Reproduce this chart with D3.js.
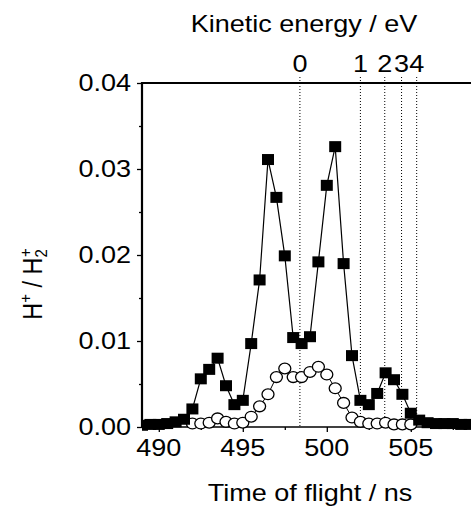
<!DOCTYPE html>
<html>
<head>
<meta charset="utf-8">
<script src="https://cdn.jsdelivr.net/npm/d3@7"></script>
<style>
  body { margin: 0; background: #fff; }
  svg { display: block; }
  text { font-family: "Liberation Sans", Arial, sans-serif; fill: #000; }
</style>
</head>
<body>
<div id="chart"></div>
<script>
// time of flight (ns) and H+/H2+ ratio, filled squares
const tofSquares = [489, 489.5, 490, 490.5, 491, 491.5, 492, 492.5, 493, 493.5,
  494, 494.5, 495, 495.5, 496, 496.5, 497, 497.5, 498, 498.5,
  499, 499.5, 500, 500.5, 501, 501.5, 502, 502.5, 503, 503.5,
  504, 504.5, 505, 505.5, 506, 506.5, 507, 507.5, 508, 508.5, 509];
const ratioSquares = [0.0002, 0.0003, 0.0003, 0.0004, 0.0006, 0.0009, 0.0021, 0.0056, 0.0067, 0.0080,
  0.0048, 0.0026, 0.0031, 0.0097, 0.0171, 0.0311, 0.0267, 0.0199, 0.0104, 0.0097,
  0.0105, 0.0192, 0.0281, 0.0326, 0.0190, 0.0083, 0.0031, 0.0026, 0.0039, 0.0063,
  0.0055, 0.0038, 0.0016, 0.0008, 0.0005, 0.0004, 0.0004, 0.0004, 0.0003, 0.0003, 0.0002];

// open circles
const tofCircles = [492, 492.5, 493, 493.5, 494, 494.5, 495, 495.5, 496, 496.5,
  497, 497.5, 498, 498.5, 499, 499.5, 500, 500.5, 501, 501.5,
  502, 502.5, 503, 503.5, 504, 504.5, 505];
const ratioCircles = [0.0004, 0.0004, 0.0005, 0.0010, 0.0006, 0.0004, 0.0005, 0.0012, 0.0024, 0.0038,
  0.0058, 0.0068, 0.0058, 0.0058, 0.0064, 0.0070, 0.0061, 0.0045, 0.0028, 0.0011,
  0.0006, 0.0004, 0.0004, 0.0005, 0.0003, 0.0003, 0.0003];

// kinetic energy markers on the top (eV -> tof position)
const energyLabels = ["0", "1", "2", "3", "4"];
const energyTof = [498.4, 502.0, 503.45, 504.45, 505.35];

const xTicks = [490, 495, 500, 505, 510];
const yTicks = [0, 0.01, 0.02, 0.03, 0.04];

const W = 471, H = 510;
const margin = {top: 83, left: 142, bottom: 427, right: 478};
const sx = 1.15; // the original lettering is a bit wide

const svg = d3.select("#chart").append("svg")
  .attr("width", W)
  .attr("height", H);

const x = d3.scaleLinear().domain([489, 509]).range([margin.left, margin.right]);
const y = d3.scaleLinear().domain([0, 0.04]).range([margin.bottom, margin.top]);

function label(txt, px, py, anchor) {
  return svg.append("text")
    .attr("transform", "translate(" + px + "," + py + ") scale(" + sx + ",1)")
    .attr("text-anchor", anchor)
    .style("font-size", "23.5px")
    .text(txt);
}

svg.append("clipPath").attr("id", "plotclip")
  .append("rect")
  .attr("x", margin.left).attr("y", 0)
  .attr("width", W).attr("height", H);

// dotted energy lines
const eg = svg.append("g");
energyTof.forEach((t, i) => {
  eg.append("line")
    .attr("x1", x(t)).attr("x2", x(t))
    .attr("y1", margin.top - 6).attr("y2", margin.bottom)
    .attr("stroke", "#000")
    .attr("stroke-width", 1)
    .attr("stroke-dasharray", "1,2");
  label(energyLabels[i], x(t), 72, "middle");
});

// axes
const xAxis = svg.append("g")
  .attr("transform", "translate(0," + margin.bottom + ")")
  .call(d3.axisBottom(x).tickValues(xTicks).tickSize(5).tickFormat(""));
xAxis.append("g")
  .call(d3.axisBottom(x).tickValues([492.5, 497.5, 502.5, 507.5]).tickSize(3).tickFormat(""));
xAxis.selectAll(".domain").remove();
xAxis.selectAll("line").attr("stroke-width", 1.3);

const yAxis = svg.append("g")
  .attr("transform", "translate(" + margin.left + ",0)")
  .call(d3.axisLeft(y).tickValues(yTicks).tickSize(5).tickFormat(""));
yAxis.append("g")
  .call(d3.axisLeft(y).tickValues([0.005, 0.015, 0.025, 0.035]).tickSize(3).tickFormat(""));
yAxis.selectAll(".domain").remove();
yAxis.selectAll("line").attr("stroke-width", 1.3);

xTicks.forEach(t => { if (x(t) < W) label(String(t), x(t), 456, "middle"); });
yTicks.forEach(v => label(v.toFixed(2), 131, y(v) + 8, "end"));

// frame
svg.append("line").attr("x1", margin.left).attr("x2", W)
  .attr("y1", margin.top).attr("y2", margin.top)
  .attr("stroke", "#000").attr("stroke-width", 2);
svg.append("line").attr("x1", margin.left).attr("x2", W)
  .attr("y1", margin.bottom).attr("y2", margin.bottom)
  .attr("stroke", "#000").attr("stroke-width", 1.6);
svg.append("line").attr("x1", margin.left).attr("x2", margin.left)
  .attr("y1", margin.top - 1).attr("y2", margin.bottom + 1)
  .attr("stroke", "#000").attr("stroke-width", 2.2);

// data
const plot = svg.append("g").attr("clip-path", "url(#plotclip)");

const circ = tofCircles.map((t, i) => ({t: t, v: ratioCircles[i]}));
const sq = tofSquares.map((t, i) => ({t: t, v: ratioSquares[i]}));

const line = d3.line().x(d => x(d.t)).y(d => y(d.v));

plot.append("path").datum(circ)
  .attr("d", line)
  .attr("fill", "none")
  .attr("stroke", "#000")
  .attr("stroke-width", 1);

plot.selectAll(".circ").data(circ).enter()
  .append("ellipse")
  .attr("class", "circ")
  .attr("cx", d => x(d.t))
  .attr("cy", d => y(d.v))
  .attr("rx", 6)
  .attr("ry", 5.4)
  .attr("fill", "#fff")
  .attr("stroke", "#000")
  .attr("stroke-width", 1.3);

plot.append("path").datum(sq)
  .attr("d", line)
  .attr("fill", "none")
  .attr("stroke", "#000")
  .attr("stroke-width", 1.2);

plot.selectAll(".sq").data(sq).enter()
  .append("rect")
  .attr("class", "sq")
  .attr("x", d => x(d.t) - 6)
  .attr("y", d => y(d.v) - 5.5)
  .attr("width", 12)
  .attr("height", 11)
  .attr("fill", "#000");

// titles
label("Kinetic energy / eV", 304, 32, "middle");
label("Time of flight / ns", 310, 501, "middle");

const yl = svg.append("text")
  .attr("transform", "translate(42,284) scale(" + sx + ",1) rotate(-90)")
  .attr("text-anchor", "middle")
  .style("font-size", "23.5px");
yl.append("tspan").text("H");
yl.append("tspan").attr("baseline-shift", "9").style("font-size", "15px").text("+");
yl.append("tspan").text(" / H");
yl.append("tspan").attr("baseline-shift", "-5").style("font-size", "15px").text("2");
yl.append("tspan").attr("dx", "-8").attr("baseline-shift", "9").style("font-size", "15px").text("+");
</script>
</body>
</html>
